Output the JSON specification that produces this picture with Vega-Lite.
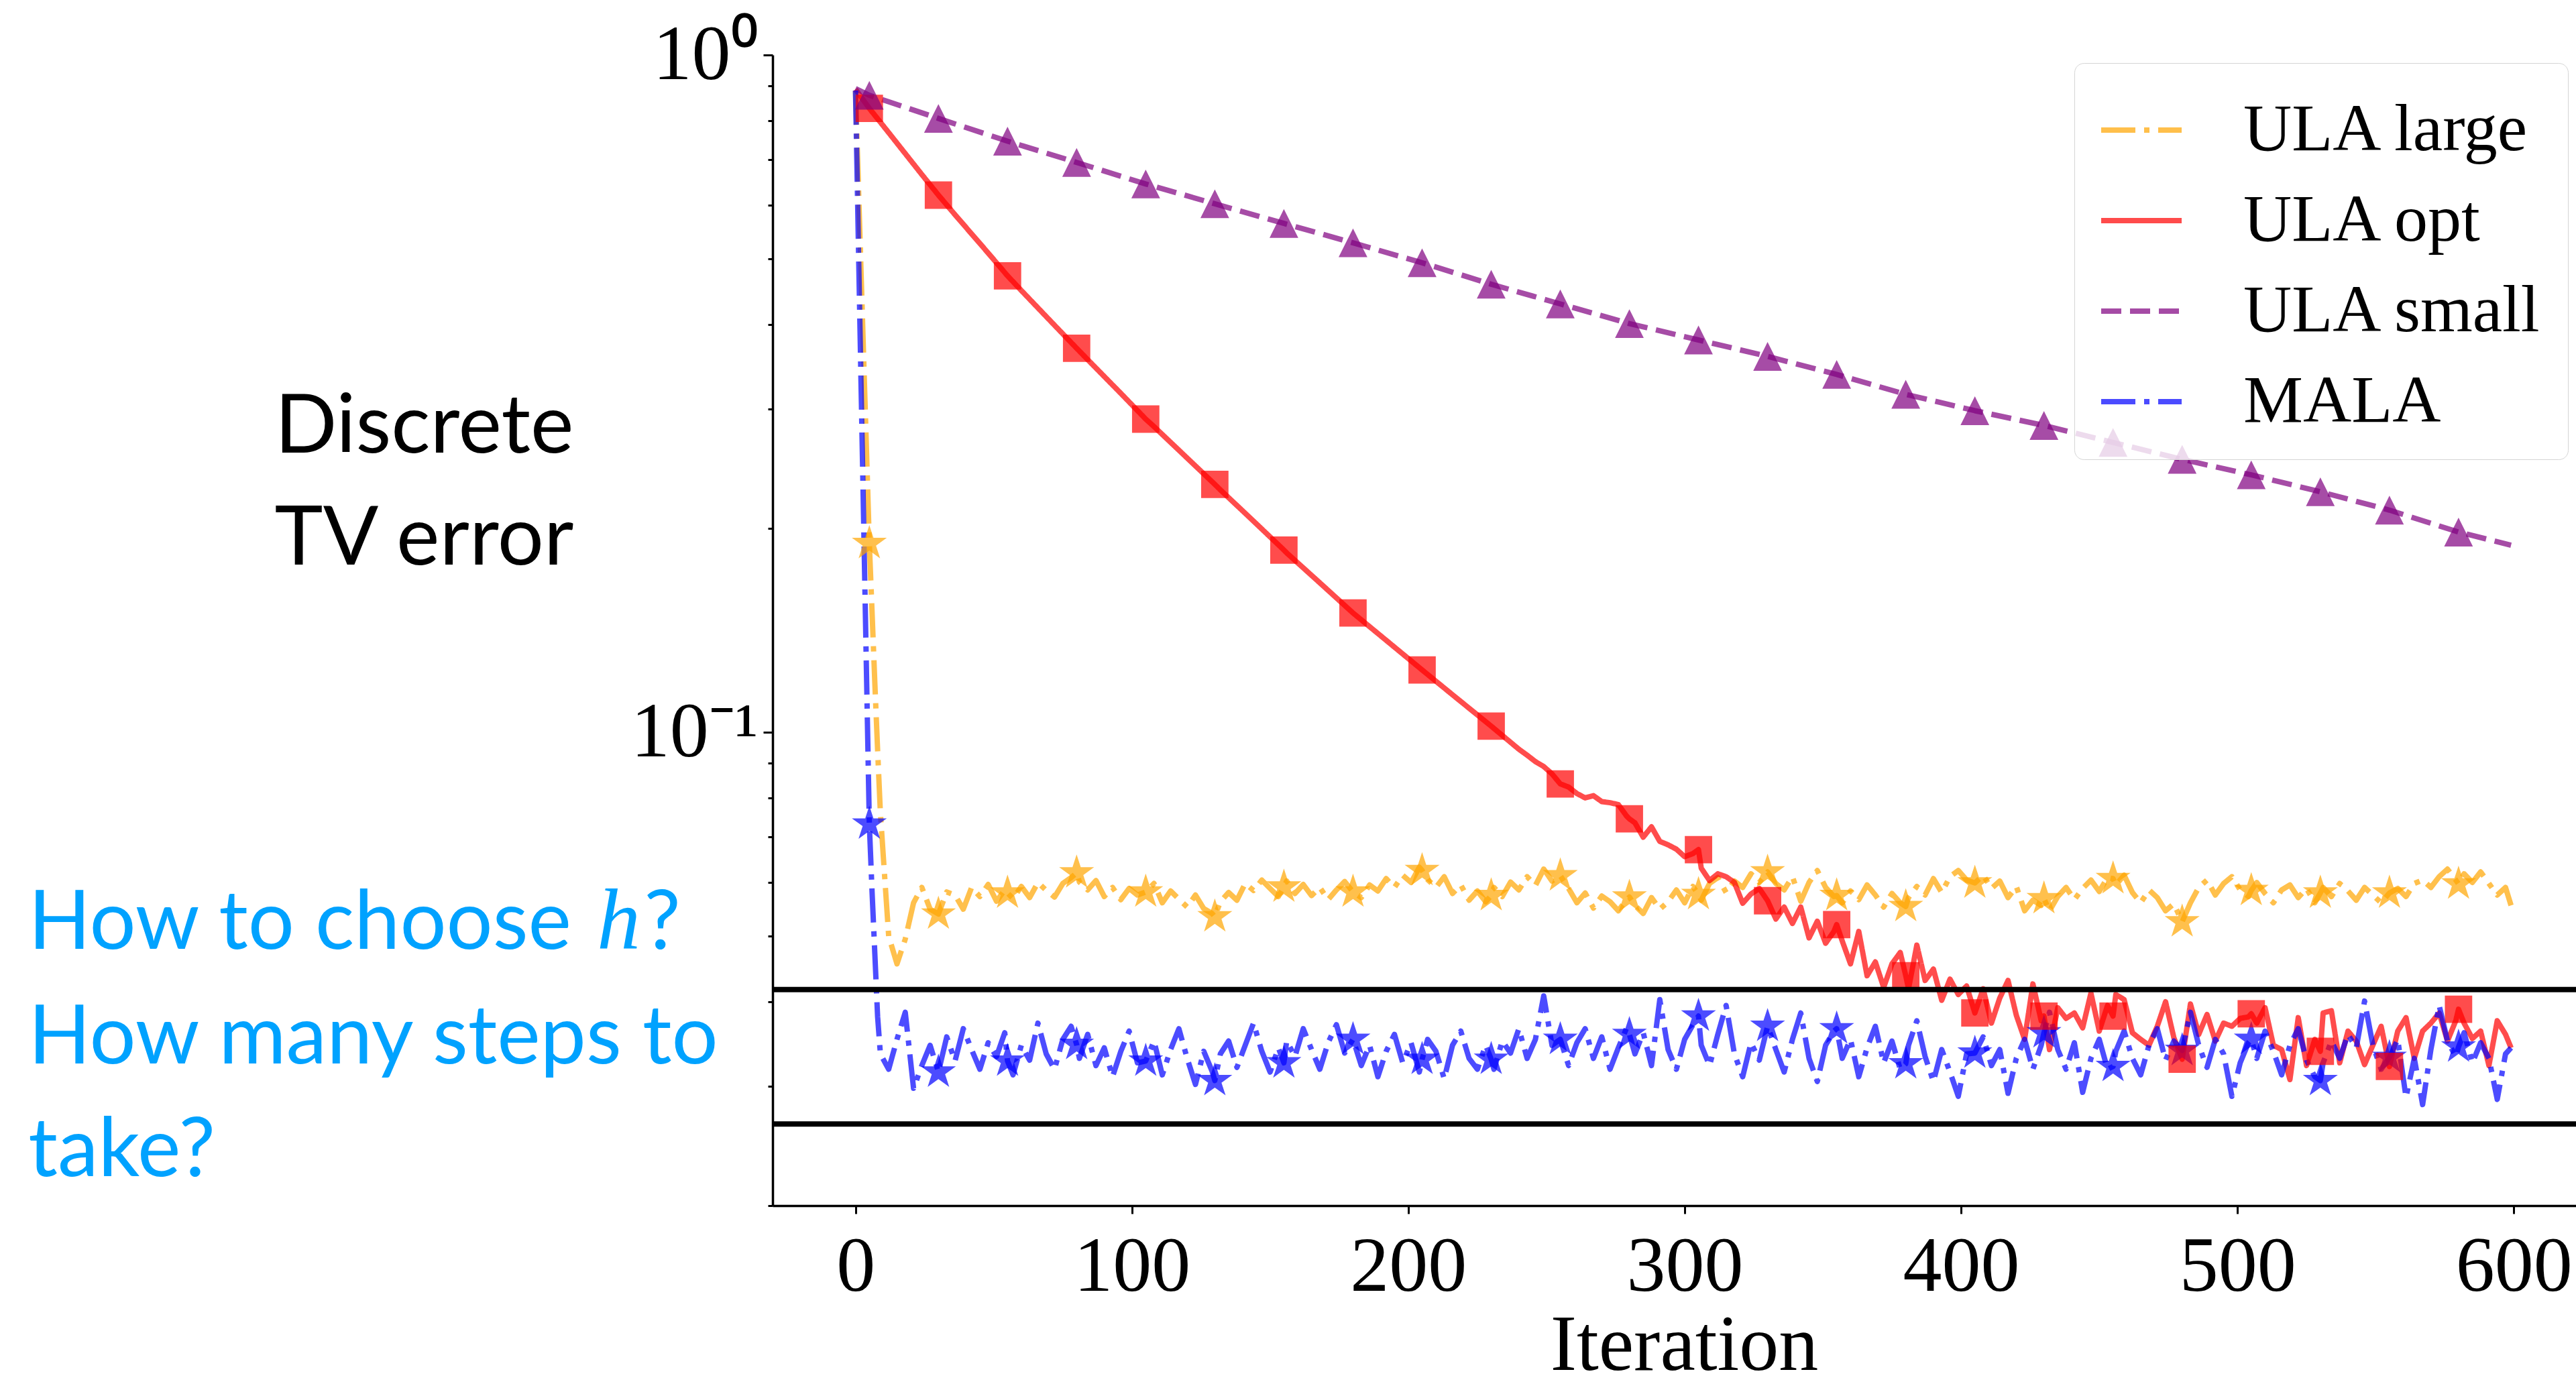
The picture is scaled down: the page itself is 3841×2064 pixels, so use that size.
{
"$schema": "https://vega.github.io/schema/vega-lite/v6.json",
"width": 2689, "height": 1716,
"autosize": {"type": "none"},
"padding": {"left": 1152, "top": 82, "right": 0, "bottom": 266},
"background": "white",
"config": {"view": {"stroke": null}, "axis": {"grid": false}},
"data": {"values": [
{"i":0,"large":0.886,"opt":0.890,"small":0.892,"mala":0.886},
{"i":1,"large":0.652,"mala":0.538},
{"i":2,"large":0.479,"mala":0.327},
{"i":3,"large":0.352,"mala":0.199},
{"i":4,"large":0.259,"mala":0.1205},
{"i":5,"large":0.190,"opt":0.834,"small":0.872,"mala":0.0732},
{"i":6,"large":0.150,"mala":0.058},
{"i":7,"large":0.118,"mala":0.047},
{"i":8,"large":0.094,"mala":0.038},
{"i":9,"large":0.076,"mala":0.0335},
{"i":12,"large":0.050,"opt":0.768,"mala":0.0318},
{"i":15,"large":0.0455,"mala":0.0352},
{"i":18,"large":0.0495,"mala":0.0386},
{"i":21,"large":0.0560,"mala":0.0298},
{"i":24,"large":0.0590,"opt":0.666,"mala":0.0322},
{"i":27,"large":0.0548,"mala":0.0345},
{"i":30,"large":0.0539,"opt":0.621,"small":0.806,"mala":0.0315},
{"i":33,"large":0.0581,"mala":0.0355},
{"i":36,"large":0.0575,"opt":0.581,"mala":0.0327},
{"i":39,"large":0.0548,"mala":0.0365},
{"i":42,"large":0.0590,"mala":0.0340},
{"i":45,"large":0.0572,"mala":0.0318},
{"i":48,"large":0.0596,"opt":0.510,"mala":0.0348},
{"i":51,"large":0.0563,"mala":0.0332},
{"i":54,"large":0.0585,"mala":0.0360},
{"i":55,"large":0.0579,"opt":0.472,"small":0.746,"mala":0.0327},
{"i":57,"large":0.0568,"mala":0.0312},
{"i":60,"large":0.0592,"opt":0.449,"mala":0.0345},
{"i":63,"large":0.0570,"mala":0.0328},
{"i":66,"large":0.0600,"mala":0.0372},
{"i":69,"large":0.0584,"mala":0.0335},
{"i":72,"large":0.0571,"opt":0.399,"mala":0.0318},
{"i":75,"large":0.0598,"mala":0.0352},
{"i":78,"large":0.0610,"mala":0.0368},
{"i":80,"large":0.0620,"opt":0.369,"small":0.694,"mala":0.0346},
{"i":81,"large":0.0601,"mala":0.0330},
{"i":84,"large":0.0585,"opt":0.355,"mala":0.0358},
{"i":87,"large":0.0604,"mala":0.0322},
{"i":90,"large":0.0572,"mala":0.0342},
{"i":93,"large":0.0590,"mala":0.0310},
{"i":96,"large":0.0566,"opt":0.3165,"mala":0.0338},
{"i":99,"large":0.0588,"mala":0.0362},
{"i":102,"large":0.0575,"mala":0.0325},
{"i":105,"large":0.0581,"opt":0.290,"small":0.645,"mala":0.0327},
{"i":108,"large":0.0598,"opt":0.2827,"mala":0.0350},
{"i":111,"large":0.0560,"mala":0.0312},
{"i":114,"large":0.0583,"mala":0.0340},
{"i":117,"large":0.0567,"mala":0.0365},
{"i":120,"large":0.0552,"opt":0.254,"mala":0.0330},
{"i":123,"large":0.0575,"mala":0.0302},
{"i":126,"large":0.0549,"mala":0.0338},
{"i":129,"large":0.0540,"mala":0.0316},
{"i":130,"large":0.0534,"opt":0.2323,"small":0.603,"mala":0.0306},
{"i":132,"large":0.0562,"opt":0.228,"mala":0.0335},
{"i":135,"large":0.0580,"mala":0.0350},
{"i":138,"large":0.0565,"mala":0.0320},
{"i":141,"large":0.0598,"mala":0.0345},
{"i":144,"large":0.0584,"opt":0.205,"mala":0.0372},
{"i":147,"large":0.0605,"mala":0.0338},
{"i":150,"large":0.0588,"mala":0.0315},
{"i":153,"large":0.0572,"mala":0.0342},
{"i":155,"large":0.0591,"opt":0.1858,"small":0.564,"mala":0.0325},
{"i":156,"large":0.0603,"opt":0.184,"mala":0.0350},
{"i":159,"large":0.0578,"mala":0.0332},
{"i":162,"large":0.0596,"mala":0.0365},
{"i":165,"large":0.0574,"mala":0.0340},
{"i":168,"large":0.0590,"opt":0.1662,"mala":0.0318},
{"i":171,"large":0.0566,"mala":0.0348},
{"i":174,"large":0.0585,"mala":0.0370},
{"i":177,"large":0.0602,"mala":0.0336},
{"i":180,"large":0.0581,"opt":0.150,"small":0.528,"mala":0.0352},
{"i":183,"large":0.0570,"mala":0.0322},
{"i":186,"large":0.0595,"mala":0.0345},
{"i":189,"large":0.0583,"mala":0.0310},
{"i":192,"large":0.0608,"opt":0.1367,"mala":0.0338},
{"i":195,"large":0.0590,"mala":0.0358},
{"i":198,"large":0.0615,"mala":0.0325},
{"i":201,"large":0.0600,"mala":0.0348},
{"i":204,"large":0.0632,"mala":0.0315},
{"i":205,"large":0.0625,"opt":0.1236,"small":0.4934,"mala":0.0329},
{"i":207,"large":0.0606,"mala":0.0352},
{"i":210,"large":0.0590,"mala":0.0338},
{"i":213,"large":0.0612,"mala":0.0308},
{"i":216,"large":0.0578,"opt":0.1136,"mala":0.0345},
{"i":219,"large":0.0595,"mala":0.0362},
{"i":222,"large":0.0565,"mala":0.0330},
{"i":225,"large":0.0583,"mala":0.0318},
{"i":228,"large":0.0562,"mala":0.0345},
{"i":230,"large":0.0574,"opt":0.1021,"small":0.4587,"mala":0.0329},
{"i":231,"large":0.0590,"mala":0.0318},
{"i":234,"large":0.0572,"mala":0.0350},
{"i":237,"large":0.0601,"mala":0.0336},
{"i":240,"large":0.0585,"opt":0.0944,"mala":0.0365},
{"i":243,"large":0.0612,"opt":0.0925,"mala":0.0330},
{"i":246,"large":0.0594,"opt":0.0905,"mala":0.0352},
{"i":249,"large":0.0628,"opt":0.0890,"mala":0.0408},
{"i":252,"large":0.0603,"opt":0.0868,"mala":0.0345},
{"i":255,"large":0.0614,"opt":0.0839,"small":0.4290,"mala":0.0352},
{"i":258,"large":0.0588,"opt":0.0830,"mala":0.0322},
{"i":261,"large":0.0560,"opt":0.0812,"mala":0.0348},
{"i":264,"large":0.0579,"opt":0.0800,"mala":0.0365},
{"i":267,"large":0.0550,"opt":0.0806,"mala":0.0330},
{"i":270,"large":0.0573,"opt":0.0790,"mala":0.0355},
{"i":273,"large":0.0562,"opt":0.0787,"mala":0.0318},
{"i":276,"large":0.0545,"opt":0.0782,"mala":0.0342},
{"i":279,"large":0.0566,"opt":0.0752,"mala":0.0366},
{"i":280,"large":0.0571,"opt":0.0745,"small":0.4012,"mala":0.0358},
{"i":282,"large":0.0555,"opt":0.0735,"mala":0.0335},
{"i":285,"large":0.0540,"opt":0.0700,"mala":0.0360},
{"i":288,"large":0.0570,"opt":0.0725,"mala":0.0322},
{"i":291,"large":0.0548,"opt":0.0690,"mala":0.0403},
{"i":294,"large":0.0562,"opt":0.0682,"mala":0.0340},
{"i":297,"large":0.0585,"opt":0.0672,"mala":0.0318},
{"i":300,"large":0.0560,"opt":0.0655,"mala":0.0352},
{"i":303,"large":0.0592,"opt":0.0662,"mala":0.0370},
{"i":305,"large":0.0576,"opt":0.0671,"small":0.3795,"mala":0.0381},
{"i":306,"large":0.0565,"opt":0.0630,"mala":0.0345},
{"i":309,"large":0.0598,"opt":0.0604,"mala":0.0322},
{"i":312,"large":0.0610,"opt":0.0618,"mala":0.0358},
{"i":315,"large":0.0580,"opt":0.0612,"mala":0.0395},
{"i":318,"large":0.0603,"opt":0.0600,"mala":0.0335},
{"i":321,"large":0.0590,"opt":0.0559,"mala":0.0310},
{"i":324,"large":0.0618,"opt":0.0577,"mala":0.0348},
{"i":327,"large":0.0600,"opt":0.0588,"mala":0.0328},
{"i":330,"large":0.0622,"opt":0.0564,"small":0.3589,"mala":0.0368},
{"i":333,"large":0.0598,"opt":0.0530,"mala":0.0340},
{"i":336,"large":0.0585,"opt":0.0552,"mala":0.0315},
{"i":339,"large":0.0612,"opt":0.0522,"mala":0.0352},
{"i":342,"large":0.0563,"opt":0.0552,"mala":0.0385},
{"i":345,"large":0.0600,"opt":0.0497,"mala":0.0330},
{"i":348,"large":0.0625,"opt":0.0526,"mala":0.0305},
{"i":351,"large":0.0590,"opt":0.0488,"mala":0.0345},
{"i":354,"large":0.0572,"opt":0.0508,"mala":0.0362},
{"i":355,"large":0.0574,"opt":0.0520,"small":0.3375,"mala":0.0365},
{"i":357,"large":0.0560,"opt":0.0492,"mala":0.0330},
{"i":360,"large":0.0583,"opt":0.0455,"mala":0.0352},
{"i":363,"large":0.0566,"opt":0.0508,"mala":0.0310},
{"i":366,"large":0.0595,"opt":0.0437,"mala":0.0342},
{"i":369,"large":0.0575,"opt":0.0458,"mala":0.0368},
{"i":372,"large":0.0552,"opt":0.0420,"mala":0.0325},
{"i":375,"large":0.0578,"opt":0.0455,"mala":0.0350},
{"i":378,"large":0.0560,"opt":0.0473,"mala":0.0318},
{"i":380,"large":0.0553,"opt":0.0437,"small":0.3155,"mala":0.0324},
{"i":381,"large":0.0570,"opt":0.0418,"mala":0.0345},
{"i":384,"large":0.0592,"opt":0.0485,"mala":0.0375},
{"i":387,"large":0.0575,"opt":0.0430,"mala":0.0332},
{"i":390,"large":0.0608,"opt":0.0447,"mala":0.0305},
{"i":393,"large":0.0580,"opt":0.0402,"mala":0.0340},
{"i":396,"large":0.0612,"opt":0.0432,"mala":0.0315},
{"i":399,"large":0.0625,"opt":0.0410,"mala":0.0290},
{"i":402,"large":0.0605,"opt":0.0422,"mala":0.0335},
{"i":405,"large":0.0599,"opt":0.0385,"small":0.2984,"mala":0.0336},
{"i":408,"large":0.0615,"opt":0.0418,"mala":0.0355},
{"i":411,"large":0.0588,"opt":0.0372,"mala":0.0322},
{"i":414,"large":0.0603,"opt":0.0405,"mala":0.0340},
{"i":417,"large":0.0570,"opt":0.0430,"mala":0.0293},
{"i":420,"large":0.0592,"opt":0.0382,"mala":0.0330},
{"i":423,"large":0.0545,"opt":0.0352,"mala":0.0352},
{"i":426,"large":0.0565,"opt":0.0425,"mala":0.0318},
{"i":429,"large":0.0555,"opt":0.0375,"mala":0.0345},
{"i":430,"large":0.0568,"opt":0.0381,"small":0.2838,"mala":0.0360},
{"i":432,"large":0.0545,"opt":0.0340,"mala":0.0386},
{"i":435,"large":0.0572,"opt":0.0392,"mala":0.0340},
{"i":438,"large":0.0590,"opt":0.0378,"mala":0.0318},
{"i":441,"large":0.0566,"opt":0.0385,"mala":0.0348},
{"i":444,"large":0.0588,"opt":0.0366,"mala":0.0294},
{"i":447,"large":0.0605,"opt":0.0412,"mala":0.0330},
{"i":450,"large":0.0582,"opt":0.0362,"mala":0.0352},
{"i":453,"large":0.0610,"opt":0.0395,"mala":0.0318},
{"i":455,"large":0.0608,"opt":0.0381,"small":0.2679,"mala":0.0321},
{"i":456,"large":0.0595,"opt":0.0410,"mala":0.0338},
{"i":459,"large":0.0615,"opt":0.0403,"mala":0.0362},
{"i":462,"large":0.0580,"opt":0.0360,"mala":0.0330},
{"i":465,"large":0.0560,"opt":0.0352,"mala":0.0312},
{"i":468,"large":0.0585,"opt":0.0345,"mala":0.0345},
{"i":471,"large":0.0570,"opt":0.0368,"mala":0.0365},
{"i":474,"large":0.0545,"opt":0.0400,"mala":0.0328},
{"i":477,"large":0.0558,"opt":0.0354,"mala":0.0350},
{"i":480,"large":0.0525,"opt":0.0329,"small":0.2529,"mala":0.0339},
{"i":483,"large":0.0560,"opt":0.0397,"mala":0.0386},
{"i":486,"large":0.0590,"opt":0.0358,"mala":0.0345},
{"i":489,"large":0.0605,"opt":0.0383,"mala":0.0320},
{"i":492,"large":0.0575,"opt":0.0350,"mala":0.0352},
{"i":495,"large":0.0598,"opt":0.0372,"mala":0.0335},
{"i":498,"large":0.0612,"opt":0.0368,"mala":0.0290},
{"i":501,"large":0.0585,"opt":0.0378,"mala":0.0325},
{"i":504,"large":0.0572,"opt":0.0380,"mala":0.0348},
{"i":505,"large":0.0584,"opt":0.0384,"small":0.2399,"mala":0.0352},
{"i":507,"large":0.0600,"opt":0.0372,"mala":0.0330},
{"i":510,"large":0.0578,"opt":0.0392,"mala":0.0362},
{"i":513,"large":0.0560,"opt":0.0345,"mala":0.0338},
{"i":516,"large":0.0585,"opt":0.0340,"mala":0.0312},
{"i":519,"large":0.0595,"opt":0.0307,"mala":0.0345},
{"i":522,"large":0.0570,"opt":0.0379,"mala":0.0365},
{"i":525,"large":0.0588,"opt":0.0322,"mala":0.0328},
{"i":528,"large":0.0560,"opt":0.0352,"mala":0.0310},
{"i":530,"large":0.0579,"opt":0.0338,"small":0.2265,"mala":0.0306},
{"i":531,"large":0.0590,"opt":0.0385,"mala":0.0325},
{"i":534,"large":0.0572,"opt":0.0388,"mala":0.0350},
{"i":537,"large":0.0598,"opt":0.0325,"mala":0.0330},
{"i":540,"large":0.0583,"opt":0.0362,"mala":0.0358},
{"i":543,"large":0.0565,"opt":0.0350,"mala":0.0342},
{"i":546,"large":0.0590,"opt":0.0323,"mala":0.0401},
{"i":549,"large":0.0575,"opt":0.0345,"mala":0.0345},
{"i":552,"large":0.0560,"opt":0.0368,"mala":0.0318},
{"i":555,"large":0.0579,"opt":0.0321,"small":0.2128,"mala":0.0331},
{"i":558,"large":0.0588,"opt":0.0362,"mala":0.0352},
{"i":561,"large":0.0572,"opt":0.0379,"mala":0.0289},
{"i":564,"large":0.0598,"opt":0.0330,"mala":0.0330},
{"i":567,"large":0.0605,"opt":0.0362,"mala":0.0282},
{"i":570,"large":0.0590,"opt":0.0372,"mala":0.0340},
{"i":573,"large":0.0612,"opt":0.0385,"mala":0.0395},
{"i":576,"large":0.0628,"opt":0.0350,"mala":0.0350},
{"i":579,"large":0.0605,"opt":0.0375,"mala":0.0332},
{"i":580,"large":0.0597,"opt":0.0390,"small":0.1975,"mala":0.0343},
{"i":582,"large":0.0618,"opt":0.0372,"mala":0.0360},
{"i":585,"large":0.0600,"opt":0.0353,"mala":0.0325},
{"i":588,"large":0.0622,"opt":0.0362,"mala":0.0348},
{"i":591,"large":0.0598,"opt":0.0322,"mala":0.0330},
{"i":594,"large":0.0575,"opt":0.0375,"mala":0.0287},
{"i":597,"large":0.0590,"opt":0.0358,"mala":0.0335},
{"i":599,"large":0.0555,"opt":0.0342,"small":0.1889,"mala":0.0342}
]},
"layer": [
{
"transform": [{"fold": ["large","opt","small","mala"], "as": ["s","v"]}, {"filter": "isValid(datum.v)"}],
"mark": {"type": "line", "strokeWidth": 8, "opacity": 0.7, "strokeCap": "butt", "strokeJoin": "round"},
"encoding": {
"x": {"field": "i", "type": "quantitative",
 "scale": {"domain": [-30, 622.5], "nice": false, "zero": false},
 "axis": {"values": [0,100,200,300,400,500,600], "labelFont": "Liberation Serif", "labelFontSize": 116, "labelColor": "black",
  "tickSize": 12, "tickWidth": 3, "tickColor": "black", "domainColor": "black", "domainWidth": 3.5,
  "labelPadding": 22, "labelFlush": false, "labelOverlap": false, "labelBound": false,
  "title": "Iteration", "titleFont": "Liberation Serif", "titleFontSize": 118, "titleFontWeight": "normal", "titleColor": "black",
  "titleBaseline": "alphabetic", "titleAlign": "center", "titleX": 1359, "titleY": 244}},
"y": {"field": "v", "type": "quantitative",
 "scale": {"type": "log", "domain": [0.02, 1], "nice": false},
 "axis": {"values": [0.02,0.03,0.04,0.05,0.06,0.07,0.08,0.09,0.1,0.2,0.3,0.4,0.5,0.6,0.7,0.8,0.9,1],
  "labelExpr": "datum.value == 1 ? '10⁰' : (datum.value == 0.1 ? '10⁻¹' : '')",
  "labelFont": "Liberation Serif", "labelFontSize": 116, "labelColor": "black", "labelPadding": 8, "labelLimit": 600,
  "labelFlush": false, "labelOverlap": false, "labelBound": false,
  "tickSize": {"condition": {"test": "datum.value == 1 || datum.value == 0.1", "value": 14}, "value": 7},
  "tickWidth": 3, "tickColor": "black", "domainColor": "black", "domainWidth": 3.5,
  "title": ["Discrete", "TV error"], "titleFont": "Lato", "titleFontSize": 122, "titleFontWeight": "normal", "titleColor": "black",
  "titleAngle": 0, "titleAlign": "center", "titleBaseline": "alphabetic", "titleX": -520, "titleY": 592, "titleLineHeight": 167}},
"color": {"field": "s", "type": "nominal", "scale": {"domain": ["large","opt","small","mala"], "range": ["orange","red","purple","blue"]},
 "legend": {"title": null, "orient": "top-right", "offset": 12,
  "labelFont": "Liberation Serif", "labelFontSize": 100, "labelColor": "black", "labelOffset": 88, "labelLimit": 1000,
  "rowPadding": 21, "padding": 36, "fillColor": "rgba(255,255,255,0.8)", "strokeColor": "#d5d5d5", "cornerRadius": 14,
  "symbolType": "stroke", "symbolSize": 14400, "symbolStrokeWidth": 8, "symbolOpacity": 0.7,
  "labelExpr": "datum.label == 'mala' ? 'MALA' : 'ULA ' + datum.label"}},
"strokeDash": {"field": "s", "type": "nominal", "scale": {"domain": ["large","opt","small","mala"], "range": [[51,13,8,13],[1,0],[30,13],[51,13,8,13]]},
 "legend": {"title": null, "orient": "top-right", "offset": 12,
  "labelFont": "Liberation Serif", "labelFontSize": 100, "labelColor": "black", "labelOffset": 88, "labelLimit": 1000,
  "rowPadding": 21, "padding": 36, "fillColor": "rgba(255,255,255,0.8)", "strokeColor": "#d5d5d5", "cornerRadius": 14,
  "symbolType": "stroke", "symbolSize": 14400, "symbolStrokeWidth": 8, "symbolOpacity": 0.7,
  "labelExpr": "datum.label == 'mala' ? 'MALA' : 'ULA ' + datum.label"}}
}
},
{
"transform": [{"fold": ["large","opt","small","mala"], "as": ["s","v"]}, {"filter": "isValid(datum.v)"}, {"filter": "datum.i >= 5 && (datum.i - 5) % 25 == 0"}, {"filter": {"field": "s", "oneOf": ["large","mala"]}}],
"mark": {"type": "point", "shape": "M0,-1L0.2245,-0.309L0.9511,-0.309L0.3633,0.118L0.5878,0.809L0,0.382L-0.5878,0.809L-0.3633,0.118L-0.9511,-0.309L-0.2245,-0.309Z", "size": 3000, "filled": true, "opacity": 0.7, "strokeWidth": 0},
"encoding": {"x": {"field": "i", "type": "quantitative"}, "y": {"field": "v", "type": "quantitative"}, "color": {"field": "s", "type": "nominal", "legend": null}}
},
{
"transform": [{"fold": ["large","opt","small","mala"], "as": ["s","v"]}, {"filter": "isValid(datum.v)"}, {"filter": "datum.i >= 5 && (datum.i - 5) % 25 == 0"}, {"filter": "datum.s == 'opt'"}],
"mark": {"type": "point", "shape": "M-0.8,-0.8H0.8V0.8H-0.8Z", "size": 2600, "filled": true, "opacity": 0.7, "strokeWidth": 0},
"encoding": {"x": {"field": "i", "type": "quantitative"}, "y": {"field": "v", "type": "quantitative"}, "color": {"field": "s", "type": "nominal", "legend": null}}
},
{
"transform": [{"fold": ["large","opt","small","mala"], "as": ["s","v"]}, {"filter": "isValid(datum.v)"}, {"filter": "datum.i >= 5 && (datum.i - 5) % 25 == 0"}, {"filter": "datum.s == 'small'"}],
"mark": {"type": "point", "shape": "M0,-0.84L0.84,0.84L-0.84,0.84Z", "size": 2600, "filled": true, "opacity": 0.7, "strokeWidth": 0},
"encoding": {"x": {"field": "i", "type": "quantitative"}, "y": {"field": "v", "type": "quantitative"}, "color": {"field": "s", "type": "nominal", "legend": null}}
},
{
"data": {"values": [{"ref": 0.0417}, {"ref": 0.0264}]},
"mark": {"type": "rule", "color": "black", "strokeWidth": 8},
"encoding": {"y": {"field": "ref", "type": "quantitative"}}
},
{
"data": {"values": [{}]},
"mark": {"type": "text", "text": "How to choose", "font": "Lato", "fontSize": 122, "color": "#00a2ff", "align": "left", "baseline": "alphabetic"},
"encoding": {"x": {"datum": -299.3}, "y": {"datum": 0.0479}}
},
{
"data": {"values": [{}]},
"mark": {"type": "text", "text": "h", "font": "Liberation Serif", "fontStyle": "italic", "fontSize": 130, "color": "#00a2ff", "align": "left", "baseline": "alphabetic"},
"encoding": {"x": {"datum": -93.6}, "y": {"datum": 0.0479}}
},
{
"data": {"values": [{}]},
"mark": {"type": "text", "text": "?", "font": "Lato", "fontSize": 122, "color": "#00a2ff", "align": "left", "baseline": "alphabetic"},
"encoding": {"x": {"datum": -76.5}, "y": {"datum": 0.0479}}
},
{
"data": {"values": [{}]},
"mark": {"type": "text", "text": ["How many steps to", "take?"], "font": "Lato", "fontSize": 122, "color": "#00a2ff", "align": "left", "baseline": "alphabetic", "lineHeight": 168},
"encoding": {"x": {"datum": -299.3}, "y": {"datum": 0.03243}}
}
]
}
